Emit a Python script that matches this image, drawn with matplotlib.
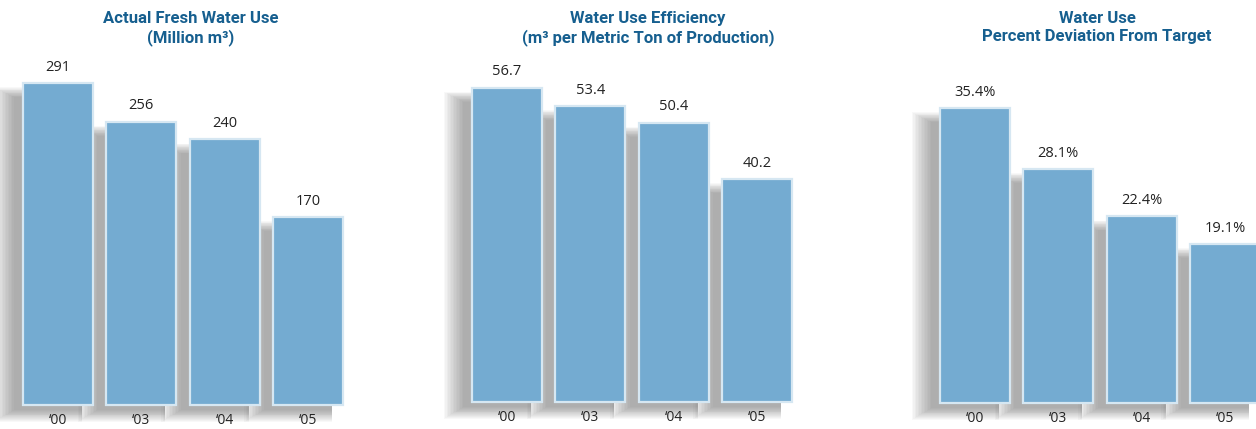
import matplotlib
matplotlib.use("Agg")
import matplotlib.pyplot as plt
from matplotlib.patches import Rectangle

years = ["\u201800", "\u201803", "\u201804", "\u201805"]
fresh_water = [291, 256, 240, 170]
efficiency = [56.7, 53.4, 50.4, 40.2]
deviation = [35.4, 28.1, 22.4, 19.1]

titles = ["Actual Fresh Water Use\n(Million m\u00b3)",
          "Water Use Efficiency\n(m\u00b3 per Metric Ton of Production)",
          "Water Use\nPercent Deviation From Target"]
labels = [[f"{v:g}" for v in fresh_water],
          [f"{v:.1f}" for v in efficiency],
          [f"{v:.1f}%" for v in deviation]]
series = [fresh_water, efficiency, deviation]

W, H = 1256, 429
fig = plt.figure(figsize=(W / 100, H / 100), dpi=100)
fig.patch.set_facecolor("white")

BAR = "#74abd1"
EDGE = "#d6e7f2"
TITLE_C = "#165f8f"

panels = [
    dict(c0=58, bottom=405, scale=1.1065, top=60, tx=191),
    dict(c0=507, bottom=402, scale=5.545, top=60, tx=648),
    dict(c0=975, bottom=403, scale=8.33, top=60, tx=1097),
]
step = 83.33
bw = 70 / step

for p, vals, labs, title in zip(panels, series, labels, titles):
    left = p["c0"] - step / 2
    width = step * 4
    ax_h = p["bottom"] - p["top"]
    ax = fig.add_axes([left / W, (H - p["bottom"]) / H, width / W, ax_h / H])
    ax.set_xlim(-0.5, 3.5)
    ax.set_ylim(0, ax_h / p["scale"])
    ax.axis("off")
    pxx = 1 / step
    pxy = 1 / p["scale"]
    for i, v in enumerate(vals):
        x0 = i - bw / 2
        for k in range(14):
            e = k * 1.5
            lo = -(5 + 0.6 * e)
            hi = -14 + 0.5 * e
            ax.add_patch(Rectangle((x0 - (9 + e) * pxx, lo * pxy),
                                   bw + (e - 2) * pxx, v + (hi - lo) * pxy,
                                   facecolor="#505050", edgecolor="none", alpha=0.04,
                                   clip_on=False, zorder=1))
    bars = ax.bar(range(4), vals, width=bw, color=BAR, edgecolor=EDGE, linewidth=1.6,
                  zorder=3, clip_on=False)
    for b, lab in zip(bars, labs):
        ax.annotate(lab, (b.get_x() + b.get_width() / 2, b.get_height()),
                    xytext=(0, 6), textcoords="offset points", ha="center", va="bottom",
                    fontsize=10.5, color="#222222", family="Open Sans",
                    annotation_clip=False, zorder=5)
    for i, y in enumerate(years):
        ax.annotate(y, (i, 0), xytext=(0, -6), textcoords="offset points", ha="center",
                    va="top", fontsize=10, color="#222222", family="Open Sans",
                    annotation_clip=False, zorder=5)
    fig.text(p["tx"] / W, 1 - 11 / H, title, ha="center", va="top", fontsize=12,
             fontweight="bold", color=TITLE_C, family="Roboto", linespacing=1.25)

fig.savefig("out.png", dpi=100, facecolor="white")
